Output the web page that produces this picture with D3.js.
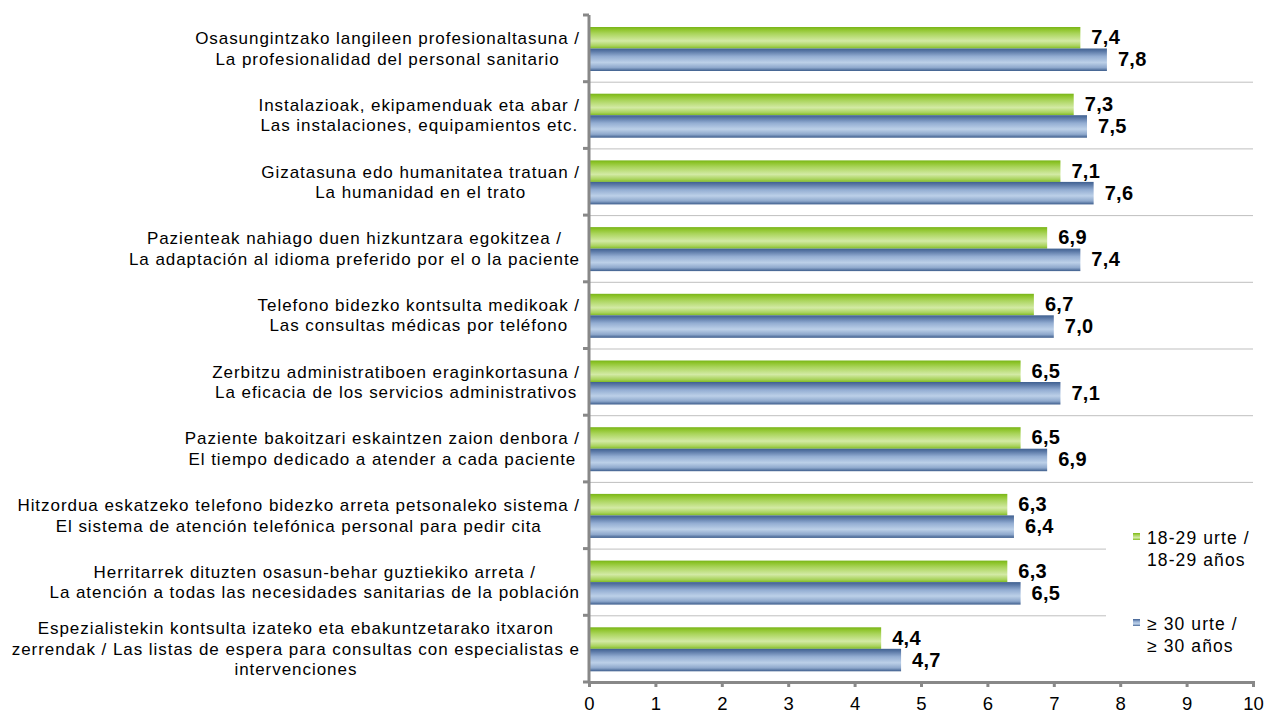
<!DOCTYPE html>
<html><head><meta charset="utf-8">
<script src="https://cdn.jsdelivr.net/npm/d3@7"></script>
<style>body{margin:0;background:#fff}svg{display:block}</style>
</head><body>
<svg id="c" width="1264" height="713"></svg>
<script>
const categories = [
  ["Osasungintzako langileen profesionaltasuna /", "La profesionalidad del personal sanitario"],
  ["Instalazioak, ekipamenduak eta abar /", "Las instalaciones, equipamientos etc."],
  ["Gizatasuna edo humanitatea tratuan /", "La humanidad en el trato"],
  ["Pazienteak nahiago duen hizkuntzara egokitzea /", "La adaptación al idioma preferido por el o la paciente"],
  ["Telefono bidezko kontsulta medikoak /", "Las consultas médicas por teléfono"],
  ["Zerbitzu administratiboen eraginkortasuna /", "La eficacia de los servicios administrativos"],
  ["Paziente bakoitzari eskaintzen zaion denbora /", "El tiempo dedicado a atender a cada paciente"],
  ["Hitzordua eskatzeko telefono bidezko arreta petsonaleko sistema /", "El sistema de atención telefónica personal para pedir cita"],
  ["Herritarrek dituzten osasun-behar guztiekiko arreta /", "La atención a todas las necesidades sanitarias de la población"],
  ["Espezialistekin kontsulta izateko eta ebakuntzetarako itxaron", "zerrendak / Las listas de espera para consultas con especialistas e", "intervenciones"]
];
const young = [7.4, 7.3, 7.1, 6.9, 6.7, 6.5, 6.5, 6.3, 6.3, 4.4];
const older = [7.8, 7.5, 7.6, 7.4, 7.0, 7.1, 6.9, 6.4, 6.5, 4.7];
const xTicks = [0,1,2,3,4,5,6,7,8,9,10];
const seriesNames = [["18-29 urte /", "18-29 años"], ["≥ 30 urte /", "≥ 30 años"]];

const svg = d3.select("#c");
const font = "'Liberation Sans', Arial, sans-serif";
const x0 = 589, x1 = 1253, yTop = 15, yBot = 682;
const x = d3.scaleLinear().domain([0,10]).range([x0, x1]);
const y = d3.scaleBand().domain(d3.range(categories.length)).range([yTop, yBot]).padding(0);
const bw = y.bandwidth();

const defs = svg.append("defs");
function grad(id, stops) {
  const g = defs.append("linearGradient").attr("id", id).attr("x1",0).attr("y1",0).attr("x2",0).attr("y2",1);
  stops.forEach(([o,c]) => g.append("stop").attr("offset", o).attr("stop-color", c));
}
grad("gG", [["0%","#78b41a"],["10%","#8cc328"],["30%","#a9d45a"],["65%","#d3eaa5"],["88%","#a8d25c"],["100%","#80bb22"]]);
grad("gB", [["0%","#3f6090"],["12%","#5a78a6"],["35%","#93add2"],["62%","#bcd0e8"],["85%","#8ea8cc"],["100%","#3d5d8c"]]);

// gridlines at category boundaries
const bounds = d3.range(1, categories.length).map(i => y(i));
svg.append("g").selectAll("line").data(bounds).join("line")
  .attr("x1", x0).attr("x2", x1).attr("y1", d=>d+0.5).attr("y2", d=>d+0.5)
  .attr("stroke", "#bfbfbf").attr("stroke-width", 1);

// bars
const gy = 12, bh = 21.5;
svg.append("g").selectAll("rect").data(young).join("rect")
  .attr("x", x0).attr("y", (d,i)=>y(i)+gy).attr("width", d=>x(d)-x0).attr("height", bh)
  .attr("fill", "url(#gG)");
svg.append("g").selectAll("rect").data(older).join("rect")
  .attr("x", x0).attr("y", (d,i)=>y(i)+gy+bh).attr("width", d=>x(d)-x0).attr("height", bh+1)
  .attr("fill", "url(#gB)");

// value labels
const fmt = d => d.toFixed(1).replace(".", ",");
function vlabels(data, off, h) {
  svg.append("g").selectAll("text").data(data).join("text")
    .attr("x", d=>x(d)+11).attr("y", (d,i)=>y(i)+off+h/2+6.5)
    .attr("font-family", font).attr("font-size", 20).attr("font-weight", "bold")
    .attr("letter-spacing", "0.3px").attr("fill", "#000")
    .text(fmt);
}
vlabels(young, gy, bh);
vlabels(older, gy+bh, bh+1);

// legend background (hides gridlines)
svg.append("rect").attr("x", 1106).attr("y", 505).attr("width", 158).attr("height", 165).attr("fill", "#fff");

// axes
const xAxis = d3.axisBottom(x).tickValues(xTicks).tickSize(5).tickSizeOuter(5).tickFormat(d3.format("d"));
const gx = svg.append("g").attr("transform", `translate(0,${yBot})`).call(xAxis);
gx.select(".domain").attr("stroke", "#888").attr("stroke-width", 3);
gx.selectAll(".tick line").attr("stroke", "#888").attr("stroke-width", 3);
gx.selectAll(".tick text").attr("font-family", font).attr("font-size", 18.5).attr("fill", "#000")
  .attr("dy", null).attr("y", 28);

const yTicksPos = d3.range(0, categories.length+1).map(i => i < categories.length ? y(i) : yBot);
const ga = svg.append("g");
ga.append("line").attr("x1", x0).attr("x2", x0).attr("y1", yTop).attr("y2", yBot).attr("stroke", "#888").attr("stroke-width", 3);
ga.selectAll("line.t").data(yTicksPos).join("line").attr("class","t")
  .attr("x1", x0-6).attr("x2", x0).attr("y1", d=>d).attr("y2", d=>d)
  .attr("stroke", "#888").attr("stroke-width", 3);

// category labels
const lab = svg.append("g").attr("font-family", font).attr("font-size", 17).attr("letter-spacing", "0.95px").attr("fill", "#000");
categories.forEach((lines, i) => {
  const cy = y(i) + bw/2;
  const n = lines.length;
  const g = lab.append("g");
  const texts = lines.map((l, j) => g.append("text").attr("y", cy + (j - (n-1)/2)*20.5 + 6).text(l));
  const maxW = d3.max(texts, t => t.node().getComputedTextLength());
  const cx = 580 - maxW/2;
  texts.forEach(t => t.attr("x", cx).attr("text-anchor", "middle"));
});

// legend
const lg = svg.append("g").attr("font-family", font).attr("font-size", 17.5).attr("letter-spacing", "1.1px").attr("fill", "#000");
const legY = [544, 630];
const legFill = ["url(#gG)", "url(#gB)"];
seriesNames.forEach((nm, k) => {
  lg.append("rect").attr("x", 1133).attr("y", legY[k]-11).attr("width", 7).attr("height", 7).attr("fill", legFill[k]);
  nm.forEach((t, j) => lg.append("text").attr("x", 1147).attr("y", legY[k] + j*22).text(t));
});
</script>
</body></html>
